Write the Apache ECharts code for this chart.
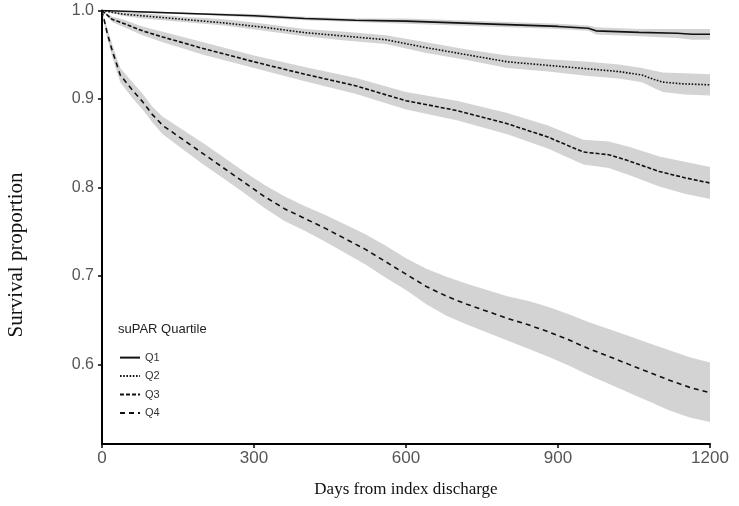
<!DOCTYPE html>
<html>
<head>
<meta charset="utf-8">
<script src="https://cdn.jsdelivr.net/npm/echarts@6/dist/echarts.min.js"></script>
<style>html,body{margin:0;padding:0;background:#fff}#c{width:739px;height:506px}</style>
</head>
<body>
<div id="c"></div>
<script>
// ---- data ----
const seriesNames = ['Q1', 'Q2', 'Q3', 'Q4'];
const xTicks = [0, 300, 600, 900, 1200];
const yTicks = [0.6, 0.7, 0.8, 0.9, 1.0];

const q1Days  = [0, 100, 200, 300, 400, 500, 600, 700, 800, 900, 960, 975, 1060, 1135, 1165, 1200];
const q1Surv  = [1.000, 0.998, 0.996, 0.994, 0.991, 0.989, 0.988, 0.986, 0.984, 0.982, 0.980, 0.977, 0.9753, 0.9742, 0.9731, 0.9731];
const q1Lower = [1.000, 0.997, 0.995, 0.992, 0.989, 0.987, 0.985, 0.983, 0.981, 0.979, 0.977, 0.973, 0.971, 0.969, 0.967, 0.967];
const q1Upper = [1.000, 0.999, 0.997, 0.996, 0.993, 0.991, 0.991, 0.989, 0.987, 0.985, 0.983, 0.981, 0.979, 0.979, 0.979, 0.979];

const q2Days  = [0, 40, 80, 160, 240, 320, 400, 480, 560, 640, 720, 800, 880, 960, 1020, 1066, 1090, 1107, 1150, 1200];
const q2Surv  = [1.000, 0.996, 0.994, 0.990, 0.986, 0.981, 0.975, 0.971, 0.967, 0.958, 0.950, 0.942, 0.938, 0.934, 0.931, 0.927, 0.922, 0.919, 0.917, 0.916];
const q2Lower = [1.000, 0.994, 0.991, 0.987, 0.983, 0.977, 0.971, 0.966, 0.962, 0.952, 0.944, 0.935, 0.931, 0.926, 0.923, 0.919, 0.912, 0.908, 0.905, 0.904];
const q2Upper = [1.000, 0.998, 0.997, 0.993, 0.990, 0.985, 0.979, 0.976, 0.972, 0.964, 0.956, 0.949, 0.945, 0.942, 0.939, 0.935, 0.932, 0.930, 0.929, 0.928];

const q3Days  = [0, 20, 40, 80, 120, 200, 300, 400, 500, 600, 700, 800, 880, 950, 1000, 1040, 1100, 1150, 1200];
const q3Surv  = [1.000, 0.990, 0.986, 0.977, 0.970, 0.957, 0.942, 0.928, 0.915, 0.898, 0.887, 0.872, 0.857, 0.840, 0.837, 0.830, 0.818, 0.811, 0.805];
const q3Lower = [1.000, 0.987, 0.982, 0.972, 0.964, 0.950, 0.935, 0.920, 0.906, 0.888, 0.876, 0.860, 0.844, 0.826, 0.822, 0.814, 0.801, 0.793, 0.787];
const q3Upper = [1.000, 0.993, 0.990, 0.982, 0.976, 0.964, 0.949, 0.936, 0.924, 0.908, 0.898, 0.884, 0.870, 0.854, 0.852, 0.846, 0.835, 0.829, 0.823];

const q4Days  = [0, 10, 20, 36, 60, 80, 100, 120, 160, 200, 240, 280, 320, 360, 400, 440, 480, 520, 560, 600, 640, 680, 720, 760, 800, 840, 880, 920, 960, 1000, 1040, 1080, 1120, 1160, 1200];
const q4Surv  = [1.000, 0.975, 0.955, 0.927, 0.910, 0.897, 0.882, 0.870, 0.854, 0.838, 0.822, 0.806, 0.790, 0.776, 0.765, 0.754, 0.742, 0.730, 0.716, 0.702, 0.688, 0.677, 0.668, 0.660, 0.652, 0.645, 0.637, 0.628, 0.618, 0.609, 0.600, 0.591, 0.582, 0.574, 0.568];
const q4Lower = [1.000, 0.969, 0.948, 0.919, 0.901, 0.888, 0.873, 0.860, 0.843, 0.826, 0.810, 0.794, 0.777, 0.762, 0.751, 0.739, 0.726, 0.713, 0.698, 0.684, 0.668, 0.655, 0.645, 0.636, 0.627, 0.618, 0.609, 0.599, 0.588, 0.578, 0.568, 0.558, 0.548, 0.540, 0.535];
const q4Upper = [1.000, 0.981, 0.962, 0.935, 0.919, 0.906, 0.891, 0.880, 0.865, 0.850, 0.834, 0.818, 0.803, 0.790, 0.779, 0.769, 0.758, 0.747, 0.734, 0.720, 0.708, 0.699, 0.691, 0.684, 0.677, 0.672, 0.665, 0.657, 0.648, 0.640, 0.632, 0.624, 0.616, 0.608, 0.602];

const curves = [
  { name: 'Q1', days: q1Days, surv: q1Surv, lo: q1Lower, hi: q1Upper, dash: 'solid' },
  { name: 'Q2', days: q2Days, surv: q2Surv, lo: q2Lower, hi: q2Upper, dash: [1.6, 1.6] },
  { name: 'Q3', days: q3Days, surv: q3Surv, lo: q3Lower, hi: q3Upper, dash: [4, 2] },
  { name: 'Q4', days: q4Days, surv: q4Surv, lo: q4Lower, hi: q4Upper, dash: [5, 4] }
];

const chart = echarts.init(document.getElementById('c'), null, { renderer: 'canvas' });

const series = [];
curves.forEach(function (c) {
  series.push({
    type: 'custom',
    silent: true,
    z: 1,
    data: [[c.days[0], c.surv[0]]],
    renderItem: function (params, api) {
      const pts = [];
      for (let i = 0; i < c.days.length; i++) pts.push(api.coord([c.days[i], c.hi[i]]));
      for (let i = c.days.length - 1; i >= 0; i--) pts.push(api.coord([c.days[i], c.lo[i]]));
      return { type: 'polygon', shape: { points: pts }, style: { fill: '#d3d3d3' } };
    }
  });
});
curves.forEach(function (c) {
  series.push({
    name: c.name,
    type: 'line',
    z: 3,
    symbol: 'none',
    silent: true,
    data: c.days.map(function (d, i) { return [d, c.surv[i]]; }),
    lineStyle: { color: '#111', width: 1.6, type: c.dash },
    itemStyle: { color: '#111' }
  });
});

chart.setOption({
  animation: false,
  backgroundColor: '#ffffff',
  grid: { left: 102, right: 29, top: 10.5, bottom: 62, containLabel: false },
  xAxis: {
    type: 'value',
    min: 0, max: 1200, interval: 300,
    axisLine: { show: true, lineStyle: { color: '#000', width: 2 } },
    axisTick: { show: true, length: 4, lineStyle: { color: '#000', width: 1.5 } },
    axisLabel: { color: '#555', fontSize: 17, fontFamily: 'Liberation Sans, Arial, sans-serif', margin: 6,
      customValues: xTicks, formatter: function (v) { return String(v); } },
    splitLine: { show: false }
  },
  yAxis: {
    type: 'value',
    min: 0.51, max: 1.0,
    axisLine: { show: true, onZero: false, lineStyle: { color: '#000', width: 2 } },
    axisTick: { show: true, length: 4, lineStyle: { color: '#000', width: 1.5 }, customValues: yTicks },
    axisLabel: { color: '#555', fontSize: 16, fontFamily: 'Liberation Sans, Arial, sans-serif', margin: 8,
      customValues: yTicks, formatter: function (v) { return v.toFixed(1); } },
    splitLine: { show: false }
  },
  legend: {
    data: seriesNames,
    orient: 'vertical',
    left: 114, top: 347,
    itemWidth: 20, itemHeight: 14, itemGap: 7.3,
    itemStyle: { opacity: 0 },
    textStyle: { color: '#333', fontSize: 11, fontFamily: 'Liberation Sans, Arial, sans-serif' },
    selectedMode: false
  },
  graphic: [
    { type: 'text', left: 118, top: 323,
      style: { text: 'suPAR Quartile', fill: '#222', font: '13px "Liberation Sans", Arial, sans-serif' } },
    { type: 'text', x: 406, y: 490,
      style: { text: 'Days from index discharge', fill: '#111', font: '17px "Liberation Serif", "Times New Roman", serif', align: 'center', verticalAlign: 'middle' } },
    { type: 'text', x: 16, y: 255, rotation: Math.PI / 2,
      style: { text: 'Survival proportion', fill: '#111', font: '21px "Liberation Serif", "Times New Roman", serif', align: 'center', verticalAlign: 'middle' } }
  ],
  series: series
});
</script>
</body>
</html>
